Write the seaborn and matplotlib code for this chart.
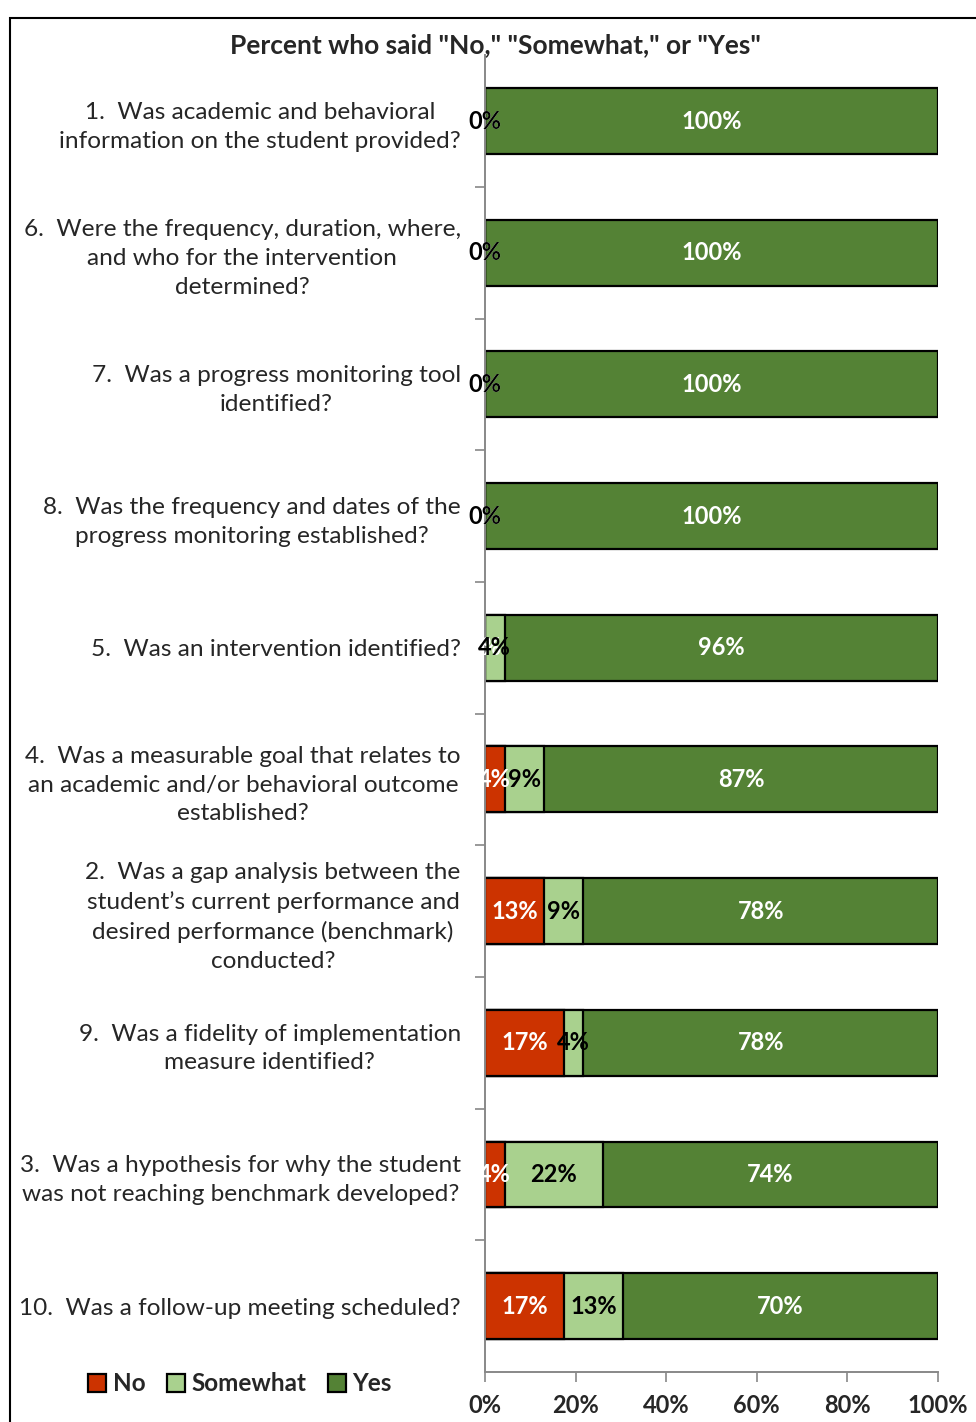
import numpy as np
import seaborn as sns
import matplotlib.pyplot as plt
from matplotlib.patches import Rectangle
from matplotlib.ticker import FixedLocator, PercentFormatter

# data (top to bottom)
questions = [
    "1.  Was academic and behavioral\ninformation on the student provided?",
    "6.  Were the frequency, duration, where,\nand who for the intervention\ndetermined?",
    "7.  Was a progress monitoring tool\nidentified?",
    "8.  Was the frequency and dates of the\nprogress monitoring established?",
    "5.  Was an intervention identified?",
    "4.  Was a measurable goal that relates to\nan academic and/or behavioral outcome\nestablished?",
    "2.  Was a gap analysis between the\nstudent\u2019s current performance and\ndesired performance (benchmark)\nconducted?",
    "9.  Was a fidelity of implementation\nmeasure identified?",
    "3.  Was a hypothesis for why the student\nwas not reaching benchmark developed?",
    "10.  Was a follow-up meeting scheduled?",
]
no = [0, 0, 0, 0, 0, 4.3, 13, 17.4, 4.3, 17.4]
somewhat = [0, 0, 0, 0, 4.3, 8.7, 8.7, 4.3, 21.7, 13]
yes = [100, 100, 100, 100, 95.7, 87, 78.3, 78.3, 74, 69.6]
series = ["No", "Somewhat", "Yes"]
colors = {"No": "#CC3300", "Somewhat": "#A9D18E", "Yes": "#548235"}
text_colors = {"No": "white", "Somewhat": "black", "Yes": "white"}

sns.set_style("white")
plt.rcParams['font.family'] = ['Lato', 'DejaVu Sans']

fig = plt.figure(figsize=(9.76, 14.22), dpi=100)
ax = fig.add_axes([0.497, 0.0352, 0.464, 0.926])

no_a = np.array(no)
som_a = np.array(somewhat)
yes_a = np.array(yes)
cum = {"No": no_a, "Somewhat": no_a + som_a, "Yes": no_a + som_a + yes_a}
vals = {"No": no_a, "Somewhat": som_a, "Yes": yes_a}

# stacked bars: draw the widest first, then overlay
for s in ["Yes", "Somewhat", "No"]:
    sns.barplot(x=cum[s], y=questions, orient="h", color=colors[s],
                edgecolor="black", linewidth=1.6, width=0.5, saturation=1,
                ax=ax, label=s)
handles, labels = ax.get_legend_handles_labels()
if ax.get_legend() is not None:
    ax.get_legend().remove()

# value labels
for s in series:
    left = cum[s] - vals[s]
    for i, v in enumerate(vals[s]):
        ax.text(left[i] + v / 2, i, f"{v:.0f}%", ha="center", va="center",
                color=text_colors[s], fontsize=17, fontweight="bold")

ax.set_xlim(0, 100)
ax.set_xticks([0, 20, 40, 60, 80, 100])
ax.xaxis.set_major_formatter(PercentFormatter(decimals=0))
ax.set_xlabel("")
ax.set_ylabel("")
for lbl in ax.get_xticklabels():
    lbl.set_fontweight("bold")
    lbl.set_fontsize(17)
ax.tick_params(axis="x", bottom=True, length=7, width=1.2, color="#888888",
               pad=9)
ax.tick_params(axis="y", left=False, pad=14, labelsize=17.6)
for lbl in ax.get_yticklabels():
    lbl.set_multialignment("center")
    lbl.set_linespacing(1.45)
ax.yaxis.set_minor_locator(FixedLocator(np.arange(0.5, len(questions) - 1, 1)))
ax.tick_params(axis="y", which="minor", left=True, length=7, width=1.2,
               color="#888888")

for sp in ["top", "right"]:
    ax.spines[sp].set_visible(False)
for sp in ["left", "bottom"]:
    ax.spines[sp].set_color("#888888")
    ax.spines[sp].set_linewidth(1.4)

fig.text(0.508, 0.968, 'Percent who said "No," "Somewhat," or "Yes"',
         ha="center", va="center", fontsize=19, fontweight="bold")

order = [labels.index(s) for s in series]
leg = fig.legend([handles[i] for i in order], [labels[i] for i in order],
                 loc="center", bbox_to_anchor=(0.246, 0.027), ncol=3,
                 frameon=False, handlelength=0.75, handleheight=0.75,
                 handletextpad=0.25, columnspacing=0.9,
                 prop={"weight": "bold", "size": 17.5})

fig.patches.append(Rectangle((10 / 976, -0.01), 1.0, 1 - 18 / 1422 + 0.01,
                             transform=fig.transFigure, fill=False,
                             edgecolor="black", linewidth=1.5))

fig.savefig("out.png", dpi=100)
